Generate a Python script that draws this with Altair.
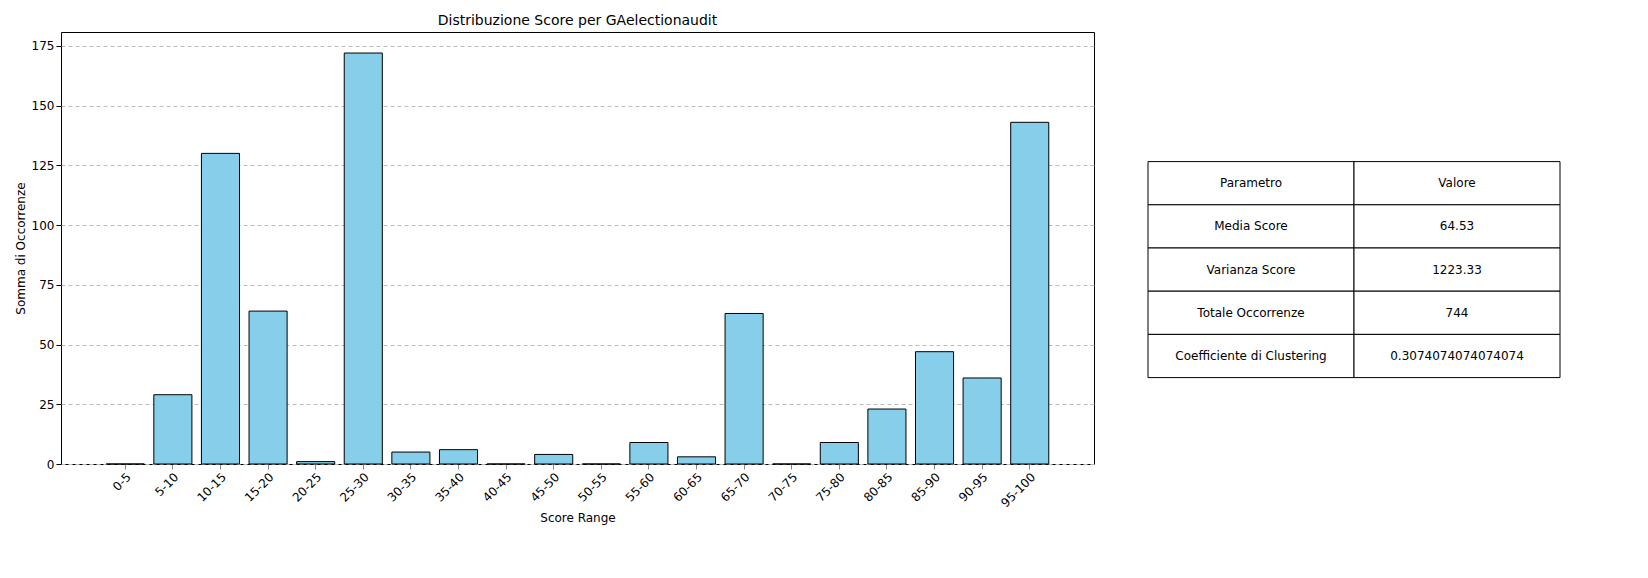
import pandas as pd
import altair as alt

ranges = ["0-5", "5-10", "10-15", "15-20", "20-25", "25-30", "30-35", "35-40", "40-45", "45-50",
          "50-55", "55-60", "60-65", "65-70", "70-75", "75-80", "80-85", "85-90", "90-95", "95-100"]
counts = [0, 29, 130, 64, 1, 172, 5, 6, 0, 4, 0, 9, 3, 63, 0, 9, 23, 47, 36, 143]

params = ["Parametro", "Media Score", "Varianza Score", "Totale Occorrenze", "Coefficiente di Clustering"]
values = ["Valore", "64.53", "1223.33", "744", "0.3074074074074074"]

FONT = "DejaVu Sans"

bars_df = pd.DataFrame({"range": ranges, "count": counts})

bars = alt.Chart(bars_df).mark_bar(color="#87CEEB", stroke="black", strokeWidth=1).encode(
    x=alt.X("range:N", sort=ranges, title="Score Range",
            scale=alt.Scale(paddingInner=0.2, paddingOuter=0.95),
            axis=alt.Axis(labelAngle=-45, labelAlign="right", labelBaseline="top", grid=False,
                          labelFontSize=12, titleFontSize=12, labelColor="black",
                          titleColor="black", titleFontWeight="normal", domain=False)),
    y=alt.Y("count:Q", title="Somma di Occorrenze",
            scale=alt.Scale(domain=[0, 180.8], nice=False),
            axis=alt.Axis(values=[0, 25, 50, 75, 100, 125, 150, 175], grid=True, gridDash=[4, 3],
                          gridColor="#bbbbbb", labelFontSize=12, titleFontSize=12,
                          labelColor="black", titleColor="black", titleFontWeight="normal",
                          domain=False, tickColor="black")),
).properties(
    width=1033, height=432,
    view=alt.ViewConfig(stroke="black", strokeWidth=1),
    title=alt.TitleParams("Distribuzione Score per GAelectionaudit", fontSize=14,
                          fontWeight="normal", font=FONT, color="black"),
)

rows = []
for i, (p, v) in enumerate(zip(params, values)):
    rows.append({"row": i, "row2": i + 1, "col": 0, "col2": 1, "text": p})
    rows.append({"row": i, "row2": i + 1, "col": 1, "col2": 2, "text": v})
table_df = pd.DataFrame(rows)
table_df["rowc"] = table_df["row"] + 0.5
table_df["colc"] = table_df["col"] + 0.5

tbase = alt.Chart(table_df)
yscale = alt.Scale(domain=[-3, 7], reverse=True)
xscale = alt.Scale(domain=[0, 2])
cells = tbase.mark_rect(fill="white", stroke="black", strokeWidth=1).encode(
    x=alt.X("col:Q", scale=xscale, axis=None),
    x2="col2:Q",
    y=alt.Y("row:Q", scale=yscale, axis=None),
    y2="row2:Q",
)
texts = tbase.mark_text(fontSize=12, font=FONT, color="black").encode(
    x=alt.X("colc:Q", scale=xscale, axis=None),
    y=alt.Y("rowc:Q", scale=yscale, axis=None),
    text="text:N",
)
table = alt.layer(cells, texts).properties(width=412, height=432, view=alt.ViewConfig(stroke=None))

chart = alt.hconcat(bars, table, spacing=52).configure(font=FONT, background="white")

chart.save("out.html", embed_options={"renderer": "svg", "actions": False})
